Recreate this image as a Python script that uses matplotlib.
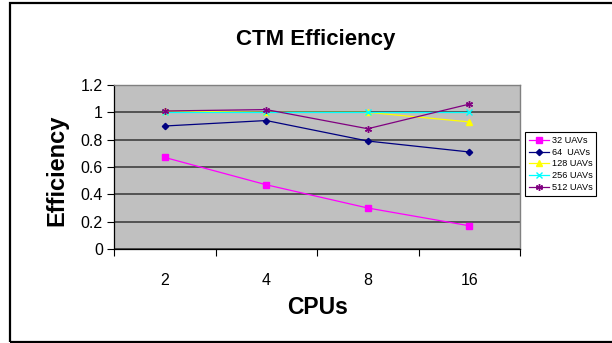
import matplotlib
matplotlib.use("Agg")
import matplotlib.pyplot as plt
from matplotlib.patches import Rectangle

plt.rcParams['font.family'] = ['Liberation Sans', 'DejaVu Sans']

cpus = ["2", "4", "8", "16"]
series_names = ["32 UAVs", "64  UAVs", "128 UAVs", "256 UAVs", "512 UAVs"]
uav32 = [0.67, 0.47, 0.30, 0.17]
uav64 = [0.90, 0.94, 0.79, 0.71]
uav128 = [1.01, 1.00, 1.00, 0.93]
uav256 = [1.00, 1.00, 1.00, 1.00]
uav512 = [1.01, 1.02, 0.88, 1.06]
yticks = [0, 0.2, 0.4, 0.6, 0.8, 1.0, 1.2]
ytick_labels = ["0", "0.2", "0.4", "0.6", "0.8", "1", "1.2"]

W, H = 612, 343
fig = plt.figure(figsize=(W / 100, H / 100), dpi=100)
fig.patch.set_facecolor("white")

L, R, T, B = 114, 520, 85, 249
ax = fig.add_axes([L / W, 1 - B / H, (R - L) / W, (B - T) / H])
ax.set_facecolor("#C0C0C0")

x = list(range(len(cpus)))
styles = [
    (uav32, "#FF00FF", "s", 3.8, 0.9),
    (uav64, "#000080", "D", 3.2, 0.9),
    (uav128, "#FFFF00", "^", 4.2, 0.9),
    (uav256, "#00FFFF", "x", 4.2, 0.9),
    (uav512, "#800080", (6, 2, 0), 5.0, 0.9),
]
for (vals, col, mk, ms, lw), name in zip(styles, series_names):
    ax.plot(x, vals, color=col, marker=mk, markersize=ms, linewidth=lw,
            markeredgecolor=col, markerfacecolor=col, markeredgewidth=1.0,
            label=name, zorder=3)

ax.set_xlim(-0.5, len(cpus) - 0.5)
ax.set_ylim(0, 1.2)
ax.set_yticks(yticks)
ax.set_yticklabels(ytick_labels)
ax.yaxis.grid(True, color="#404040", linewidth=1.2, zorder=1)
ax.set_axisbelow(True)

ax.set_xticks(x)
ax.set_xticklabels(cpus)
ax.set_xticks([i - 0.5 for i in range(len(cpus) + 1)], minor=True)
ax.tick_params(axis="x", which="major", length=0, pad=17, labelsize=11.5)
ax.tick_params(axis="x", which="minor", length=5, direction="out", width=0.8)
ax.tick_params(axis="y", length=5, direction="out", width=0.8, pad=3, labelsize=11.5)

for s in ["left", "bottom"]:
    ax.spines[s].set_color("black")
    ax.spines[s].set_linewidth(0.9)
for s in ["top", "right"]:
    ax.spines[s].set_color("#808080")
    ax.spines[s].set_linewidth(1.0)

fig.text(316 / W, 1 - 39 / H, "CTM Efficiency", ha="center", va="center",
         fontsize=16, fontweight="bold")
fig.text(318 / W, 1 - 307 / H, "CPUs", ha="center", va="center",
         fontsize=16.5, fontweight="bold")
fig.text(57 / W, 1 - 170 / H, "Efficiency", ha="center", va="center",
         fontsize=17, fontweight="bold", rotation=90)

leg = ax.legend(loc="center", bbox_to_anchor=(560.5 / W, 1 - 164 / H),
                bbox_transform=fig.transFigure, fontsize=6.6, frameon=True,
                fancybox=False, edgecolor="black", framealpha=1,
                handlelength=2.2, handletextpad=0.3, labelspacing=0.3,
                borderpad=0.4, borderaxespad=0)
leg.get_frame().set_linewidth(0.8)

fig.patches.append(Rectangle((10 / W, 1 - 341.5 / H), (W + 10) / W, (341.5 - 3) / H,
                             transform=fig.transFigure, fill=False,
                             edgecolor="black", linewidth=1.6, clip_on=False))

fig.savefig("out.png", dpi=100)
